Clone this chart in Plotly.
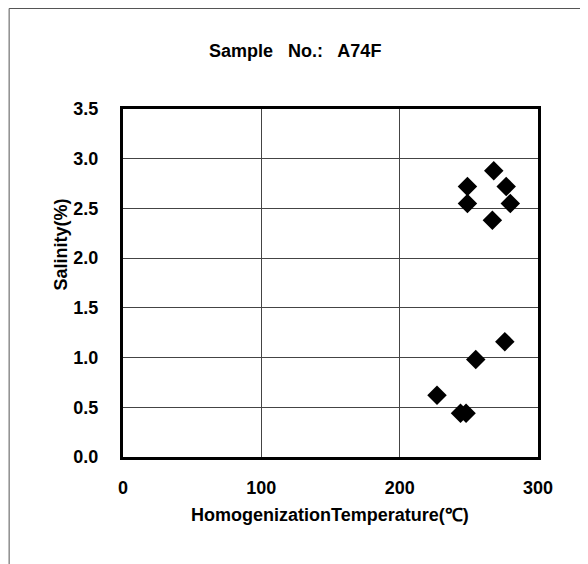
import plotly.graph_objects as go

# Data
temperature = [227, 244, 248, 255, 276, 249, 249, 268, 277, 280, 267]
salinity = [0.62, 0.44, 0.44, 0.98, 1.16, 2.72, 2.55, 2.88, 2.72, 2.55, 2.38]

x_ticks = [0, 100, 200, 300]
y_ticks = [0.0, 0.5, 1.0, 1.5, 2.0, 2.5, 3.0, 3.5]
y_tick_text = ["0.0", "0.5", "1.0", "1.5", "2.0", "2.5", "3.0", "3.5"]

# figure geometry (pixels, figure coordinates)
W, H = 588, 564
L, R, T, B = 114.5, 58, 101, 115
PW, PH = W - L - R, H - T - B


def px(fx):
    return (fx - L) / PW


def py(fy):
    return (H - B - fy) / PH


font_family = "Liberation Sans, Arial, sans-serif"

fig = go.Figure()
fig.add_trace(go.Scatter(
    x=temperature, y=salinity, mode="markers",
    marker=dict(symbol="diamond", size=15, color="black"),
    showlegend=False,
))

fig.update_layout(
    width=W, height=H,
    paper_bgcolor="white", plot_bgcolor="white",
    margin=dict(l=L, r=R, t=T, b=B, autoexpand=False),
    xaxis=dict(
        range=[0, 300], tickvals=x_ticks, ticktext=[str(v) for v in x_ticks],
        showgrid=True, gridcolor="#444444", gridwidth=1,
        showline=True, linecolor="black", linewidth=3, mirror=True,
        zeroline=False, ticks="", ticklabelstandoff=12, automargin=False,
        tickfont=dict(family=font_family, size=18, color="black", weight="bold"),
    ),
    yaxis=dict(
        range=[0, 3.5], tickvals=y_ticks, ticktext=y_tick_text,
        showgrid=True, gridcolor="#444444", gridwidth=1,
        showline=True, linecolor="black", linewidth=3, mirror=True,
        zeroline=False, ticks="", ticklabelstandoff=18, automargin=False,
        tickfont=dict(family=font_family, size=18, color="black", weight="bold"),
    ),
)

annotations = [
    dict(text="Sample   No.:   A74F", x=px(287), y=py(43), size=18),
    dict(text="HomogenizationTemperature(℃)", x=px(322), y=py(507), size=18),
    dict(text="Salinity(%)", x=px(52), y=py(237), size=18, angle=-90),
]
for a in annotations:
    fig.add_annotation(
        text=a["text"], x=a["x"], y=a["y"], xref="paper", yref="paper",
        xanchor="center", yanchor="middle", showarrow=False,
        textangle=a.get("angle", 0),
        font=dict(family=font_family, size=a["size"], color="black", weight="bold"),
    )

# faint scanned frame at top and left
fig.add_shape(type="line", xref="paper", yref="paper", x0=px(0.5), x1=px(W), y0=py(0.5), y1=py(0.5),
              line=dict(color="#555555", width=1))
fig.add_shape(type="line", xref="paper", yref="paper", x0=px(0.5), x1=px(0.5), y0=py(0.5), y1=py(H),
              line=dict(color="#555555", width=1))

fig.write_html("out.html")
